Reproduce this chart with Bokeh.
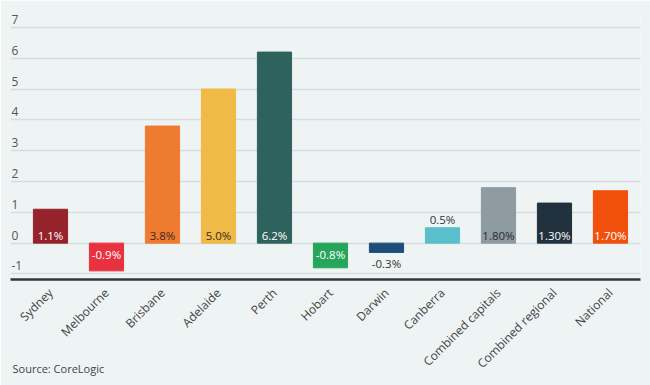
from bokeh.plotting import figure
from bokeh.models import Range1d, FixedTicker, Title, ColumnDataSource
from bokeh.core.properties import value
from bokeh.embed import file_html
from bokeh.resources import INLINE
import math

cities = ["Sydney", "Melbourne", "Brisbane", "Adelaide", "Perth", "Hobart", "Darwin",
          "Canberra", "Combined capitals", "Combined regional", "National"]
values = [1.1, -0.9, 3.8, 5.0, 6.2, -0.8, -0.3, 0.5, 1.8, 1.3, 1.7]
labels = ["1.1%", "-0.9%", "3.8%", "5.0%", "6.2%", "-0.8%", "-0.3%", "0.5%", "1.80%", "1.30%", "1.70%"]
colors = ["#96222c", "#e8323f", "#ef7b30", "#efba45", "#2e625d", "#27a55b", "#1b4e78",
          "#5bbecb", "#8e9ba1", "#22313e", "#f04f0c"]
label_colors = ["white", "white", "#3a2a20", "#3a2a20", "white", "white", "#333333",
                "#333333", "#2a2a2a", "white", "white"]
y_ticks = [-1, 0, 1, 2, 3, 4, 5, 6, 7]
source_text = "Source: CoreLogic"

FONT = "Open Sans"
BG = "#eef3f4"

x_start, x_end = -0.714, 10.536
y_start, y_end = -1.18, 7.55

p = figure(width=650, height=385, output_backend="svg", toolbar_location=None,
           x_range=Range1d(x_start, x_end), y_range=Range1d(y_start, y_end),
           min_border_left=10, min_border_right=10, min_border_top=10, min_border_bottom=106)
p.background_fill_color = BG
p.border_fill_color = BG
p.outline_line_color = None

idx = list(range(len(cities)))
src = ColumnDataSource(dict(x=idx, top=values, color=colors))
p.vbar(x="x", top="top", bottom=0, width=0.61, color="color", source=src)

pos_in = dict(x=[], y=[], t=[], c=[])
neg_in = dict(x=[], y=[], t=[], c=[])
above = dict(x=[], y=[], t=[], c=[])
below = dict(x=[], y=[], t=[], c=[])
for i, (v, t, c) in enumerate(zip(values, labels, label_colors)):
    if v >= 1:
        d = pos_in
        d["y"].append(0)
    elif v > 0:
        d = above
        d["y"].append(v)
    elif v <= -0.6:
        d = neg_in
        d["y"].append(0)
    else:
        d = below
        d["y"].append(v)
    d["x"].append(i); d["t"].append(t); d["c"].append(c)

common = dict(text_font=value(FONT), text_font_size="11.5px", text_align="center")
p.text(x=pos_in["x"], y=pos_in["y"], text=pos_in["t"], text_color=pos_in["c"],
       text_baseline="middle", y_offset=-8, **common)
p.text(x=above["x"], y=above["y"], text=above["t"], text_color=above["c"],
       text_baseline="middle", y_offset=-8, **common)
p.text(x=neg_in["x"], y=neg_in["y"], text=neg_in["t"], text_color=neg_in["c"],
       text_baseline="middle", y_offset=11, **common)
p.text(x=below["x"], y=below["y"], text=below["t"], text_color=below["c"],
       text_baseline="middle", y_offset=11, **common)

# y tick labels inside the frame, above gridlines
p.text(x=[x_start] * len(y_ticks), y=y_ticks, text=[str(t) for t in y_ticks],
       x_offset=1, y_offset=-8, text_baseline="middle", text_align="left",
       text_font=value(FONT), text_font_size="12px", text_color="#555555")

p.yaxis.visible = False
p.xgrid.visible = False
p.ygrid.ticker = FixedTicker(ticks=y_ticks)
p.ygrid.grid_line_color = "#d6dde0"
p.ygrid.grid_line_width = 1.3

ax = p.xaxis[0]
ax.ticker = FixedTicker(ticks=idx)
ax.major_label_overrides = {i: c for i, c in enumerate(cities)}
ax.major_label_orientation = math.pi / 4
ax.major_label_text_font = FONT
ax.major_label_text_font_size = "12px"
ax.major_label_text_color = "#444444"
ax.major_label_standoff = 5
ax.axis_line_color = "#2b3942"
ax.axis_line_width = 2.5
ax.major_tick_line_color = None
ax.minor_tick_line_color = None

p.add_layout(Title(text=source_text, align="left", offset=2, standoff=-40,
                   vertical_align="top",
                   text_font=FONT, text_font_size="11px", text_font_style="normal",
                   text_color="#444444"), "below")

open("out.html", "w").write(file_html(p, INLINE))
